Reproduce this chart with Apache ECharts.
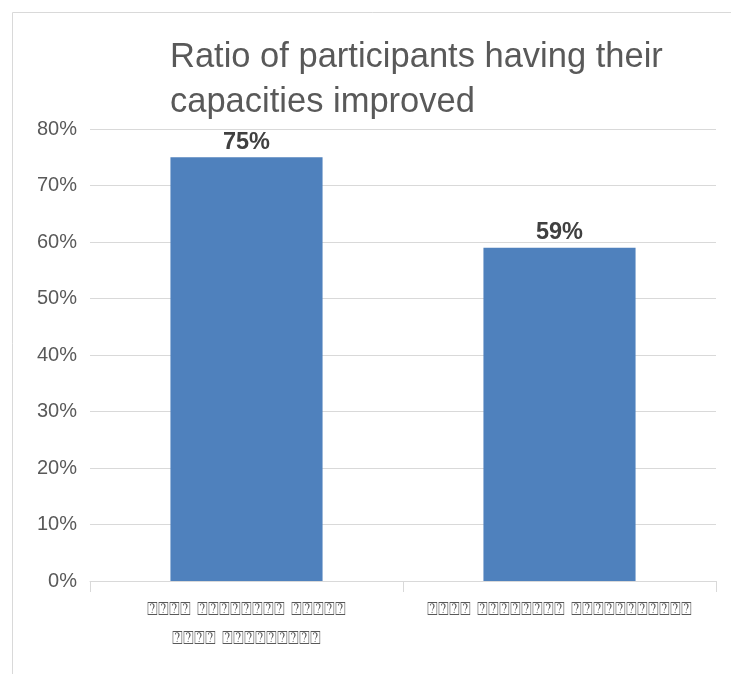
<!DOCTYPE html>
<html><head><meta charset="utf-8">
<script src="https://cdn.jsdelivr.net/npm/echarts@6/dist/echarts.min.js"></script>
<style>html,body{margin:0;padding:0;background:#fff}#c{width:731px;height:674px}</style>
</head><body><div id="c"></div>
<script>
const titleText = 'Ratio of participants having their\ncapacities improved';
const categories = ['⍰⍰⍰⍰ ⍰⍰⍰⍰⍰⍰⍰⍰ ⍰⍰⍰⍰⍰\n⍰⍰⍰⍰ ⍰⍰⍰⍰⍰⍰⍰⍰⍰', '⍰⍰⍰⍰ ⍰⍰⍰⍰⍰⍰⍰⍰ ⍰⍰⍰⍰⍰⍰⍰⍰⍰⍰⍰'];
const values = [75, 59];
const yMin = 0, yMax = 80, yStep = 10;

const chart = echarts.init(document.getElementById('c'));
chart.setOption({
  animation: false,
  graphic: [{type:'rect', shape:{x:12.5, y:12.5, width:740, height:700}, style:{fill:'none', stroke:'#d9d9d9', lineWidth:1}}],
  title: {text: titleText, left: 165, top: 30,
    textStyle: {fontFamily:'Liberation Sans', fontWeight:'normal', fontSize:34.5, color:'#595959', lineHeight:45}},
  grid: {left: 90, right: 15, top: 129, bottom: 93},
  xAxis: {type:'category', data: categories,
    axisLine:{lineStyle:{color:'#d9d9d9'}}, axisTick:{show:true, length:11, lineStyle:{color:'#d9d9d9'}},
    axisLabel:{color:'#595959', fontSize:18, lineHeight:29, margin:15, fontFamily:'DejaVu Sans', interval:0}},
  yAxis: {type:'value', min:yMin, max:yMax, interval:yStep,
    axisLabel:{formatter:'{value}%', color:'#595959', fontSize:20, margin:13, fontFamily:'Liberation Sans'},
    splitLine:{lineStyle:{color:'#d9d9d9'}}, axisLine:{show:false}, axisTick:{show:false}},
  series: [{type:'bar', data: values, barWidth:'48.6%', itemStyle:{color:'#4f81bd'},
    label:{show:true, position:'top', formatter:'{c}%', fontSize:23.5, fontWeight:'bold', color:'#404040', fontFamily:'Liberation Sans', distance:3}}]
});
</script></body></html>
